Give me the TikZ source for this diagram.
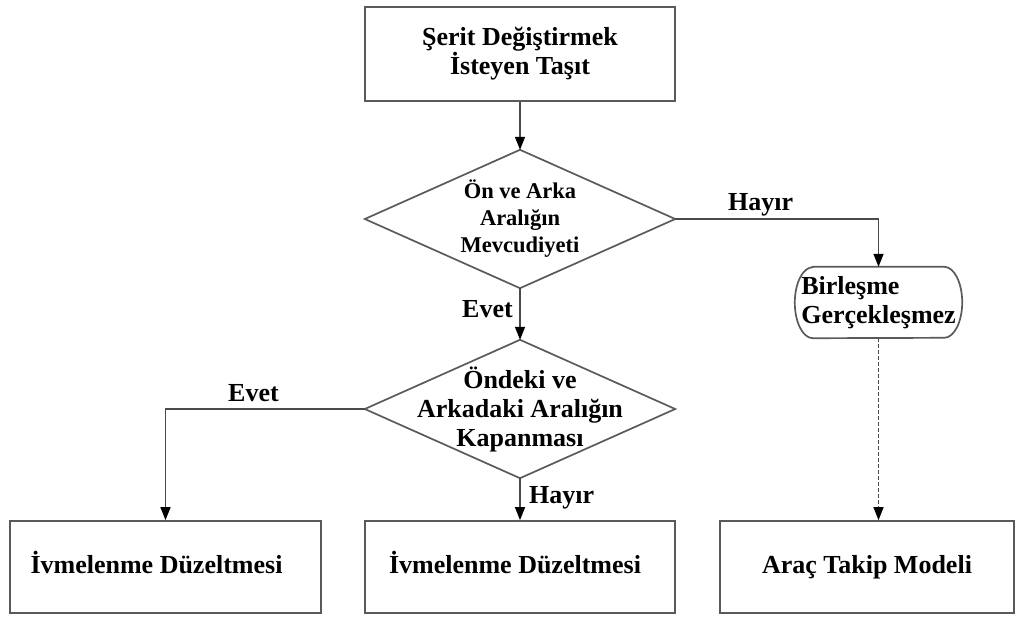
\documentclass[tikz,border=0pt]{standalone}
\usepackage{fontspec}
\setmainfont{Liberation Serif}
\usetikzlibrary{arrows.meta}
\definecolor{edgegray}{HTML}{5A5A5A}
\definecolor{linkgray}{HTML}{4A4A4A}
\begin{document}
\begin{tikzpicture}[x=1pt,y=-1pt,
  every node/.style={font=\bfseries\fontsize{26}{29}\selectfont, text=black},
  outline/.style={draw=edgegray, line width=1.7pt},
  flow/.style={draw=linkgray, line width=1.4pt, -{Triangle[length=13pt,width=10pt,color=black]}},
  procbox/.style={outline, rectangle, inner sep=0pt, align=center},
  onelinebox/.style={procbox, text height=18pt, text depth=5pt},
  decision/.style={rectangle, inner sep=0pt, align=center, minimum width=310pt, minimum height=138pt},
  tag/.style={anchor=base west, inner sep=0pt}
]
\useasboundingbox (0,0) rectangle (1025,616);

% process start
\node[procbox, minimum width=310pt, minimum height=94pt] (start) at (520,54)
  {Şerit Değiştirmek\\İsteyen Taşıt};

% first decision
\node[decision, font=\bfseries\fontsize{22.5}{27}\selectfont] (gap) at (520,219)
  {Ön ve Arka\\Aralığın\\Mevcudiyeti};
\draw[outline] (gap.north) -- (gap.east) -- (gap.south) -- (gap.west) -- cycle;

% second decision
\node[decision] (close) at (520,409)
  {Öndeki ve\\Arkadaki Aralığın\\Kapanması};
\draw[outline] (close.north) -- (close.east) -- (close.south) -- (close.west) -- cycle;

% terminal with flattened round ends
\node[rectangle, minimum width=167pt, minimum height=71pt, inner sep=0pt, align=left] (nomerge) at (878.5,302.5)
  {Birleşme\\Gerçekleşmez};
\draw[outline] ([xshift=18pt]nomerge.north west) -- ([xshift=-18pt]nomerge.north east)
  arc[start angle=90, end angle=-90, x radius=18pt, y radius=35.5pt]
  -- ([xshift=18pt]nomerge.south west)
  arc[start angle=270, end angle=90, x radius=18pt, y radius=35.5pt] -- cycle;

% bottom row
\node[onelinebox, minimum width=311pt, minimum height=92pt] (accA) at (165.5,567) {İvmelenme Düzeltmesi\hspace*{18pt}};
\node[onelinebox, minimum width=310pt, minimum height=92pt] (accB) at (520,567) {İvmelenme Düzeltmesi\hspace*{10pt}};
\node[onelinebox, minimum width=294pt, minimum height=92pt] (follow) at (867,567) {Araç Takip Modeli};

% connectors
\draw[flow] (start.south) -- (gap.north);
\draw[flow] (gap.east) -| (nomerge.north);
\draw[flow] (gap.south) -- (close.north);
\draw[flow] (close.west) -| (accA.north);
\draw[flow] (close.south) -- (accB.north);
\draw[flow, line width=1.3pt, dash pattern=on 4pt off 2pt] (nomerge.south) -- (nomerge.south |- follow.north);

% branch labels
\node[tag] (yes1) at (462,317) {Evet};
\node[tag] (no1) at (728,210) {Hayır};
\node[tag] (yes2) at (228,401) {Evet};
\node[tag] (no2) at (529,503) {Hayır};
\end{tikzpicture}
\end{document}
